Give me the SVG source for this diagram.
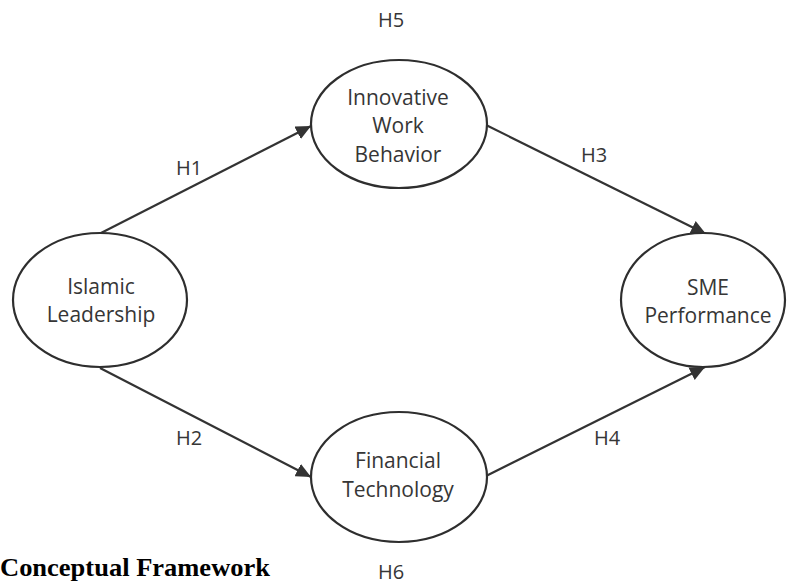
<svg xmlns="http://www.w3.org/2000/svg" width="787" height="586" viewBox="0 0 787 586">
<style>
.node{fill:#fff;stroke:#2e2e2e;stroke-width:2.2}
.nt{font-family:"Open Sans","DejaVu Sans",sans-serif;font-size:21px;fill:#363636;text-anchor:middle}
.lb{font-family:"Open Sans","DejaVu Sans",sans-serif;font-size:20px;fill:#363636;text-anchor:middle}
.edge{fill:none;stroke:#333;stroke-width:2.2}
.cap{font-family:"Liberation Serif","Times New Roman",serif;font-size:25px;font-weight:bold;fill:#000}
</style>
<defs>
<marker id="ah" markerUnits="userSpaceOnUse" markerWidth="16" markerHeight="14" refX="15" refY="7" orient="auto">
<path d="M0,0 L15,7 L0,14 Z" fill="#333"/>
</marker>
</defs>
<rect width="787" height="586" fill="#fff"/>
<g id="connectors">
<line class="edge" x1="101" y1="233" x2="311" y2="126" marker-end="url(#ah)"/>
<line class="edge" x1="486" y1="125" x2="706" y2="234" marker-end="url(#ah)"/>
<line class="edge" x1="100" y1="368" x2="311" y2="477" marker-end="url(#ah)"/>
<line class="edge" x1="486" y1="476" x2="705" y2="367" marker-end="url(#ah)"/>
</g>
<g id="islamic-leadership">
<ellipse class="node" cx="100" cy="300" rx="87" ry="67"/>
<text class="nt" x="101" y="294">Islamic</text>
<text class="nt" x="101" y="322">Leadership</text>
</g>
<g id="innovative-work-behavior">
<ellipse class="node" cx="399" cy="124" rx="88" ry="64"/>
<text class="nt" x="398" y="105">Innovative</text>
<text class="nt" x="398" y="133">Work</text>
<text class="nt" x="398" y="162">Behavior</text>
</g>
<g id="financial-technology">
<ellipse class="node" cx="399" cy="477" rx="88" ry="65"/>
<text class="nt" x="398" y="468">Financial</text>
<text class="nt" x="398" y="497">Technology</text>
</g>
<g id="sme-performance">
<ellipse class="node" cx="703" cy="300" rx="82" ry="67"/>
<text class="nt" x="708" y="295">SME</text>
<text class="nt" x="708" y="323">Performance</text>
</g>
<g id="labels">
<text class="lb" x="391" y="27">H5</text>
<text class="lb" x="189" y="175">H1</text>
<text class="lb" x="594" y="162">H3</text>
<text class="lb" x="189" y="445">H2</text>
<text class="lb" x="607" y="445">H4</text>
<text class="lb" x="391" y="579">H6</text>
</g>
<text class="cap" x="0" y="576" textLength="270" lengthAdjust="spacingAndGlyphs">Conceptual Framework</text>
</svg>
